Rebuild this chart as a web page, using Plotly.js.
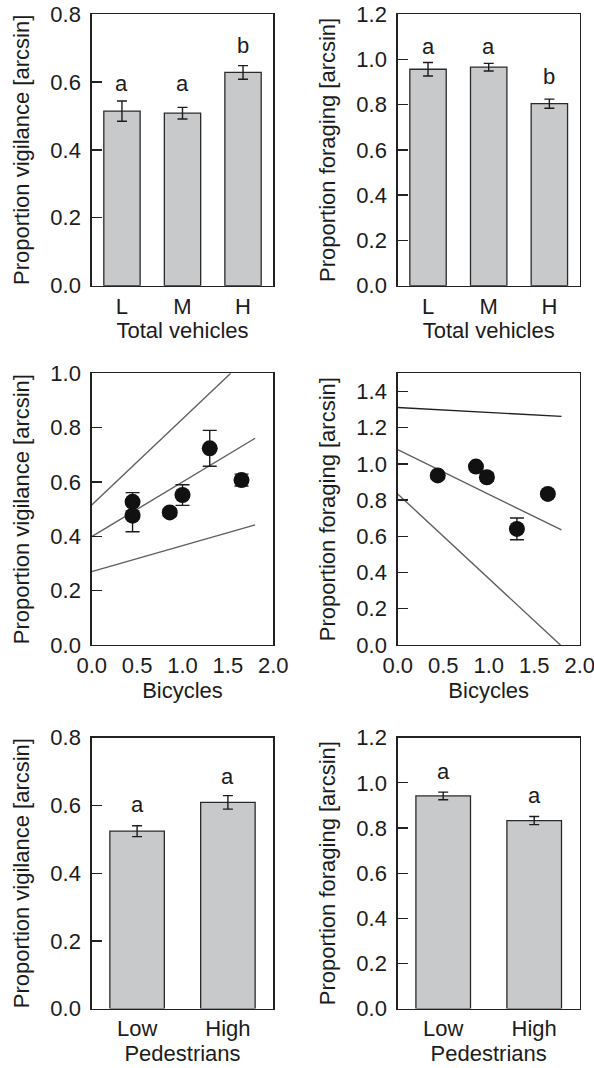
<!DOCTYPE html>
<html>
<head>
<meta charset="utf-8">
<script src="https://cdn.plot.ly/plotly-3.0.1.min.js"></script>
<style>html,body{margin:0;padding:0;background:#fff;}#chart{width:594px;height:1068px;}</style>
</head>
<body>
<div id="chart"></div>
<script>
// ---- Data ----
var vehicleCats = ['L', 'M', 'H'];
var vigVehicles = [0.514, 0.508, 0.628];
var vigVehiclesErr = [0.030, 0.017, 0.020];
var vigVehiclesLetters = ['a', 'a', 'b'];
var vigVehiclesLetterY = [0.576, 0.576, 0.688];

var forVehicles = [0.956, 0.965, 0.804];
var forVehiclesErr = [0.030, 0.017, 0.020];
var forVehiclesLetters = ['a', 'a', 'b'];
var forVehiclesLetterY = [1.026, 1.026, 0.894];

var bikeVigX = [0.45, 0.45, 0.86, 1.00, 1.30, 1.65];
var bikeVigY = [0.527, 0.476, 0.488, 0.552, 0.724, 0.607];
var bikeVigErr = [0.034, 0.059, 0.012, 0.038, 0.066, 0.022];
var vigFitX = [0, 1.8];
var vigFitY = [0.399, 0.761];
var vigUpperX = [0, 1.531];
var vigUpperY = [0.515, 1.0];
var vigLowerX = [0, 1.8];
var vigLowerY = [0.270, 0.442];

var bikeForX = [0.44, 0.86, 0.98, 1.31, 1.65];
var bikeForY = [0.936, 0.985, 0.926, 0.641, 0.834];
var bikeForErr = [0.015, 0.015, 0.022, 0.060, 0.015];
var forFitX = [0, 1.8];
var forFitY = [1.078, 0.635];
var forUpperX = [0, 1.8];
var forUpperY = [1.311, 1.262];
var forLowerX = [0, 1.788];
var forLowerY = [0.834, 0.0];

var pedCats = ['Low', 'High'];
var vigPed = [0.524, 0.609];
var vigPedErr = [0.016, 0.020];
var vigPedLetters = ['a', 'a'];
var vigPedLetterY = [0.584, 0.667];

var forPed = [0.942, 0.833];
var forPedErr = [0.017, 0.018];
var forPedLetters = ['a', 'a'];
var forPedLetterY = [1.020, 0.917];

// ---- Styling ----
var FONT = 'Liberation Sans, Arial, Helvetica, sans-serif';
var FS = 22;
var INK = '#1c1c1c';
var BARFILL = '#c8c9ca';
var LINEGRAY = '#5f5f5f';

function barTrace(cats, vals, errs, ax) {
  return {
    type: 'bar', x: cats, y: vals, xaxis: 'x' + ax, yaxis: 'y' + ax,
    marker: {color: BARFILL, line: {color: '#2a2a2a', width: 1.3}},
    error_y: {type: 'data', array: errs, visible: true, color: INK, thickness: 1.4, width: 5},
    hoverinfo: 'skip', showlegend: false
  };
}
function pointTrace(xs, ys, errs, ax) {
  return {
    type: 'scatter', mode: 'markers', x: xs, y: ys, xaxis: 'x' + ax, yaxis: 'y' + ax,
    marker: {color: '#111', size: 16, line: {width: 0}},
    error_y: {type: 'data', array: errs, visible: true, color: INK, thickness: 1.4, width: 7},
    hoverinfo: 'skip', showlegend: false
  };
}
function lineTrace(xs, ys, ax, color) {
  return {
    type: 'scatter', mode: 'lines', x: xs, y: ys, xaxis: 'x' + ax, yaxis: 'y' + ax,
    line: {color: color, width: 1.4}, hoverinfo: 'skip', showlegend: false
  };
}
function letterAnns(cats, letters, ys, ax) {
  return cats.map(function (c, i) {
    return {
      xref: 'x' + ax, yref: 'y' + ax, x: c, y: ys[i], text: letters[i],
      showarrow: false, yanchor: 'bottom', yshift: -8,
      font: {family: FONT, size: FS, color: INK}
    };
  });
}

var data = [
  barTrace(vehicleCats, vigVehicles, vigVehiclesErr, ''),
  barTrace(vehicleCats, forVehicles, forVehiclesErr, '2'),
  lineTrace(vigUpperX, vigUpperY, '3', LINEGRAY),
  lineTrace(vigFitX, vigFitY, '3', LINEGRAY),
  lineTrace(vigLowerX, vigLowerY, '3', LINEGRAY),
  pointTrace(bikeVigX, bikeVigY, bikeVigErr, '3'),
  lineTrace(forUpperX, forUpperY, '4', '#222'),
  lineTrace(forFitX, forFitY, '4', LINEGRAY),
  lineTrace(forLowerX, forLowerY, '4', LINEGRAY),
  pointTrace(bikeForX, bikeForY, bikeForErr, '4'),
  barTrace(pedCats, vigPed, vigPedErr, '5'),
  barTrace(pedCats, forPed, forPedErr, '6')
];

var W = 594, H = 1068, MB = 59, PH = H - MB;
var leftDom = [91.7 / W, 273.3 / W];
var rightDom = [397.7 / W, 579.7 / W];
function yDom(top, bottom) { return [Math.max(0, 1 - bottom / PH), 1 - top / PH]; }
var row1 = yDom(14, 285.7), row2 = yDom(373.3, 645), row3 = yDom(737.7, 1008.6);

var tickFont = {family: FONT, size: FS, color: INK};
function xAxis(dom, anchor, title, numeric) {
  var a = {
    domain: dom, anchor: anchor, showline: true, mirror: true, linecolor: '#222', linewidth: 1.4,
    showgrid: false, zeroline: false, ticks: '', tickfont: tickFont, ticklabelstandoff: 0,
    ticklabeloverflow: 'allow',
    title: {text: title, font: {family: FONT, size: FS, color: INK}, standoff: 3},
    fixedrange: true
  };
  if (numeric) {
    a.range = [0, 2]; a.tickvals = [0, 0.5, 1, 1.5, 2]; a.tickformat = '.1f';
  } else {
    a.type = 'category';
  }
  return a;
}
function yAxis(dom, anchor, title, top) {
  return {
    domain: dom, anchor: anchor, range: [0, top], dtick: 0.2, tick0: 0, tickformat: '.1f',
    showline: true, mirror: true, linecolor: '#222', linewidth: 1.4,
    showgrid: false, zeroline: false, ticks: 'inside', ticklen: 10, tickwidth: 1.3, tickcolor: '#222',
    tickfont: tickFont, ticklabelstandoff: 5,
    title: {text: title, font: {family: FONT, size: FS, color: INK}, standoff: 14},
    fixedrange: true
  };
}

var vigTitle = 'Proportion vigilance [arcsin]';
var forTitle = 'Proportion foraging [arcsin]';

var layout = {
  width: W, height: H, margin: {l: 0, r: 0, t: 0, b: MB},
  paper_bgcolor: '#fff', plot_bgcolor: '#fff', showlegend: false,
  bargap: 0.4,
  font: {family: FONT, size: FS, color: INK},
  xaxis: xAxis(leftDom, 'y', 'Total vehicles', false),
  yaxis: yAxis(row1, 'x', vigTitle, 0.8),
  xaxis2: xAxis(rightDom, 'y2', 'Total vehicles', false),
  yaxis2: yAxis(row1, 'x2', forTitle, 1.2),
  xaxis3: xAxis(leftDom, 'y3', 'Bicycles', true),
  yaxis3: yAxis(row2, 'x3', vigTitle, 1.0),
  xaxis4: xAxis(rightDom, 'y4', 'Bicycles', true),
  yaxis4: yAxis(row2, 'x4', forTitle, 1.5),
  xaxis5: xAxis(leftDom, 'y5', 'Pedestrians', false),
  yaxis5: yAxis(row3, 'x5', vigTitle, 0.8),
  xaxis6: xAxis(rightDom, 'y6', 'Pedestrians', false),
  yaxis6: yAxis(row3, 'x6', forTitle, 1.2),
  annotations: [].concat(
    letterAnns(vehicleCats, vigVehiclesLetters, vigVehiclesLetterY, ''),
    letterAnns(vehicleCats, forVehiclesLetters, forVehiclesLetterY, '2'),
    letterAnns(pedCats, vigPedLetters, vigPedLetterY, '5'),
    letterAnns(pedCats, forPedLetters, forPedLetterY, '6')
  )
};
layout.yaxis4.tickvals = [0, 0.2, 0.4, 0.6, 0.8, 1.0, 1.2, 1.4];

Plotly.newPlot('chart', data, layout, {staticPlot: true, displayModeBar: false});
</script>
</body>
</html>
